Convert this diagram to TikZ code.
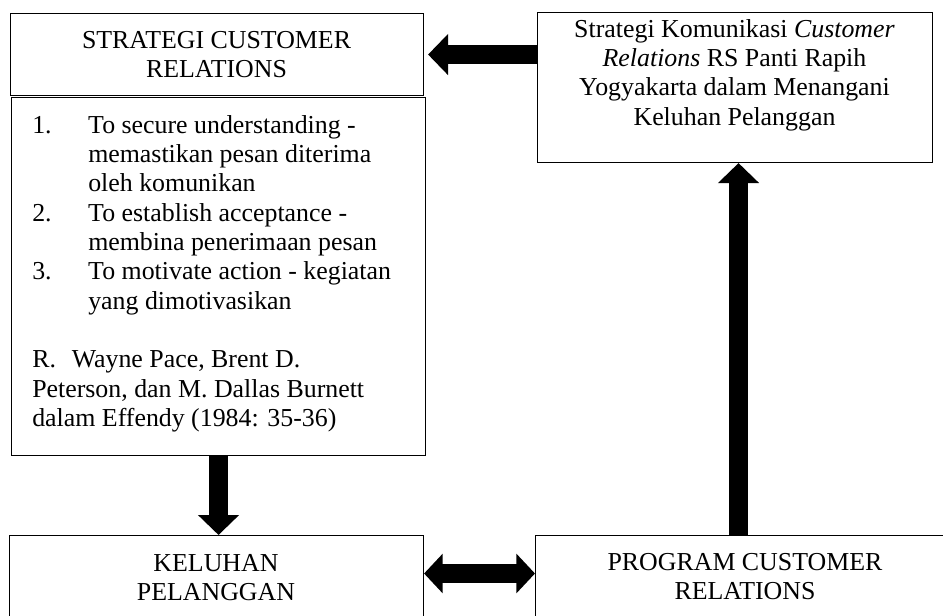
\documentclass[tikz,border=0pt]{standalone}
\usepackage{fontspec}
\setmainfont{Liberation Serif}
\usetikzlibrary{arrows.meta}
\newcommand\fst{\rule{0pt}{15pt}}
\begin{document}
\begin{tikzpicture}[x=0.75pt,y=-0.75pt,
  box/.style={draw, line width=0.8pt, rectangle, inner sep=0pt, anchor=north west},
  txt/.style={inner sep=0pt, font=\fontsize{19.4pt}{22pt}\selectfont},
  bigarrow/.style={line width=14.5pt, -{Triangle[width=30pt,length=15pt]}},
  dblarrow/.style={line width=14.5pt, {Triangle[width=29pt,length=14pt]}-{Triangle[width=29pt,length=14pt]}}]
\useasboundingbox (0,0) rectangle (943,615);
\clip (0,0) rectangle (943,615);
% boxes
\node[box, minimum width=309.75pt, minimum height=61.5pt] (A) at (10,13) {};
\node[box, minimum width=310.5pt, minimum height=268.5pt] (B) at (11,97) {};
\node[box, minimum width=296.25pt, minimum height=112.5pt] (E) at (537,12) {};
\node[box, minimum width=310.5pt, minimum height=63.75pt] (C) at (9,535) {};
\node[box, minimum width=315pt, minimum height=63.75pt] (D) at (535,535) {};
% texts
\node[txt, align=center, anchor=north] (At) at (216.5,28) {\fst STRATEGI CUSTOMER\\RELATIONS};
\node[txt, align=left, anchor=north west] (Bt) at (32,113) {\fst\makebox[42pt][l]{1.}To secure understanding -\\
\hspace*{42pt}memastikan pesan diterima\\
\hspace*{42pt}oleh komunikan\\
\makebox[42pt][l]{2.}To establish acceptance -\\
\hspace*{42pt}membina penerimaan pesan\\
\makebox[42pt][l]{3.}To motivate action - kegiatan\\
\hspace*{42pt}yang dimotivasikan\\[22pt]
R.\hspace{7pt} Wayne Pace, Brent D.\\
Peterson, dan M. Dallas Burnett\\
dalam Effendy (1984: 35-36)};
\node[txt, align=center, anchor=north] (Et) at (734.5,17) {\fst Strategi Komunikasi \textit{Customer}\\\textit{Relations} RS Panti Rapih\\Yogyakarta dalam Menangani\\Keluhan Pelanggan};
\node[txt, align=center, anchor=north] (Ct) at (216,551) {\fst KELUHAN\\PELANGGAN};
\node[txt, align=center, anchor=north] (Dt) at (745,550) {\fst PROGRAM CUSTOMER\\RELATIONS};
% connectors
\draw[bigarrow, shorten >=3pt] (A.east -| E.west) -- (A.east);
\draw[bigarrow] (B.south) -- (B.south |- C.north);
\draw[bigarrow] ([xshift=-5.25pt]D.north) -- ([xshift=-5.25pt]D.north |- E.south);
\draw[dblarrow] ([yshift=3.4pt]C.east) -- ([yshift=3.4pt]C.east -| D.west);
\end{tikzpicture}
\end{document}
